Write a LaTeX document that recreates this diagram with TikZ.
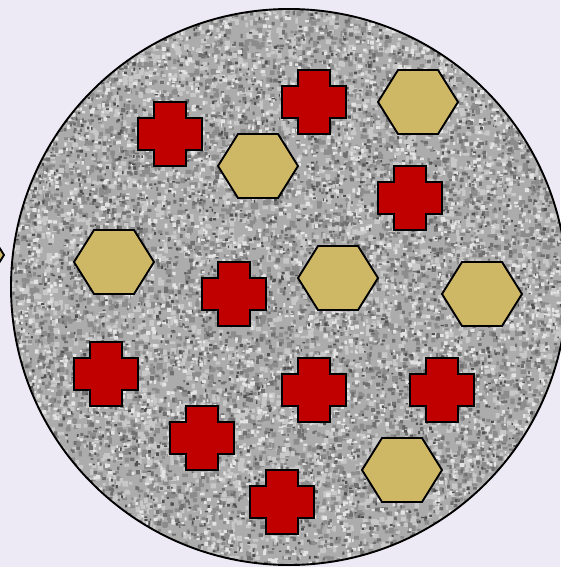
\documentclass[tikz,border=0pt]{standalone}
\begin{document}
\begin{tikzpicture}[x=1pt,y=-1pt,
  shapeline/.style={draw=black,line width=1.9pt,line join=miter},
  hexstyle/.style={shapeline,fill=hexfill},
  crossstyle/.style={shapeline,fill=crossfill},
  hexshape/.pic={\path[hexstyle] (-40,0) -- (-20,-32) -- (20,-32) -- (40,0) -- (20,32) -- (-20,32) -- cycle;},
  crossshape/.pic={\path[crossstyle] (-16,-32) -- (16,-32) -- (16,-16) -- (32,-16) -- (32,16) -- (16,16) -- (16,32) -- (-16,32) -- (-16,16) -- (-32,16) -- (-32,-16) -- (-16,-16) -- cycle;}
]
\definecolor{bgcol}{RGB}{238,234,245}
\definecolor{hexfill}{RGB}{206,184,102}
\definecolor{crossfill}{RGB}{192,0,0}
\definecolor{basegray}{RGB}{172,172,172}
\definecolor{dk0}{RGB}{80,80,80}
\definecolor{dk1}{RGB}{112,112,112}
\definecolor{dk2}{RGB}{140,140,140}
\definecolor{lt1}{RGB}{200,200,200}
\definecolor{lt2}{RGB}{228,228,228}
\useasboundingbox (0,0) rectangle (560,567);
\fill[bgcol] (0,0) rectangle (560,567);
\coordinate (C) at (289,287);
\begin{scope}
  \clip (C) circle (278);
  \fill[basegray] (C) circle (278);
  \pgfmathsetseed{12345}
  \foreach \b in {1,...,18}{
    \fill[dk2] \foreach \i in {1,...,250}{ ({289+280*rand},{287+280*rand}) rectangle ++({2.5+3.5*rnd},{2.5+3.5*rnd}) };
    \fill[lt1] \foreach \i in {1,...,250}{ ({289+280*rand},{287+280*rand}) rectangle ++({2.5+3.5*rnd},{2.5+3.5*rnd}) };
  }
  \foreach \b in {1,...,12}{
    \fill[dk1] \foreach \i in {1,...,250}{ ({289+280*rand},{287+280*rand}) rectangle ++({1.5+3*rnd},{1.5+3*rnd}) };
    \fill[lt2] \foreach \i in {1,...,250}{ ({289+280*rand},{287+280*rand}) rectangle ++({1.5+3*rnd},{1.5+3*rnd}) };
  }
  \foreach \b in {1,...,6}{
    \fill[dk0] \foreach \i in {1,...,250}{ ({289+280*rand},{287+280*rand}) rectangle ++({1.2+2.2*rnd},{1.2+2.2*rnd}) };
  }
\end{scope}
\draw[black,line width=1.9pt] (C) circle (278);
% hexagons
\pic at (-36,255) {hexshape};
\pic at (418,102) {hexshape};
\pic at (258,166) {hexshape};
\pic at (114,262) {hexshape};
\pic at (338,278) {hexshape};
\pic at (482,294) {hexshape};
\pic at (402,470) {hexshape};
% crosses
\pic at (170,134) {crossshape};
\pic at (314,102) {crossshape};
\pic at (410,198) {crossshape};
\pic at (234,294) {crossshape};
\pic at (106,374) {crossshape};
\pic at (314,390) {crossshape};
\pic at (442,390) {crossshape};
\pic at (202,438) {crossshape};
\pic at (282,502) {crossshape};
\end{tikzpicture}
\end{document}
